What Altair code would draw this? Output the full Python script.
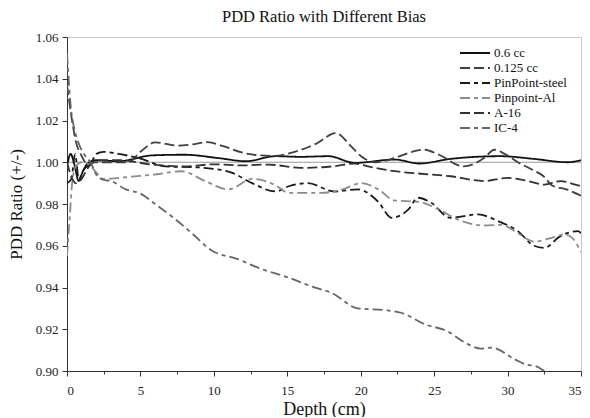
import altair as alt
import pandas as pd

series_names = ["0.6 cc", "0.125 cc", "PinPoint-steel", "Pinpoint-Al", "A-16", "IC-4"]

x_06 = [0, 0.25, 0.5, 0.8, 1.1, 1.5, 2, 3.5, 5.8, 8, 10.3, 12.2, 14.2, 15.9, 17.8, 19.6, 22.3, 24, 26.1, 29.5, 31.8, 34.1, 35]
y_06 = [0.998, 1.004, 0.999, 0.991, 0.996, 1.0, 1.001, 1.0005, 1.0033, 1.0036, 1.002, 1.0005, 1.0029, 1.0026, 1.0029, 0.9997, 1.0013, 0.9994, 1.0016, 1.0029, 1.0016, 1.0, 1.001]

x_0125 = [0, 0.3, 0.6, 1.0, 1.4, 1.8, 2.5, 3.5, 4.2, 5, 6, 7.5, 8.5, 9.6, 10.5, 12.2, 14, 15.5, 17, 18.3, 19.3, 20, 21, 22.3, 23.5, 24.3, 25.3, 27, 28.4, 29.1, 29.8, 30.7, 31.8, 32.5, 33, 34, 35]
y_0125 = [1.037, 1.022, 1.010, 1.003, 0.999, 1.000, 1.000, 1.000, 1.0, 1.005, 1.0095, 1.008, 1.0085, 1.0096, 1.008, 1.0042, 1.003, 1.005, 1.009, 1.014, 1.008, 1.003, 1.0, 1.002, 1.005, 1.006, 1.0037, 0.998, 1.002, 1.006, 1.004, 1.0, 0.996, 0.993, 0.989, 0.987, 0.984]

x_steel = [0, 0.3, 0.55, 0.8, 1.2, 1.6, 2, 2.5, 3.5, 4.9, 6.7, 9, 11.2, 12.6, 14.2, 15.1, 16.4, 18.2, 19.8, 21.2, 22.1, 23.25, 23.9, 24.8, 26.1, 28, 29.35, 30.7, 31.8, 32.5, 33.6, 34.8, 35]
y_steel = [0.99, 0.992, 1.004, 0.992, 0.997, 0.999, 1.004, 1.005, 1.004, 1.002, 0.998, 0.9975, 0.995, 0.990, 0.986, 0.9885, 0.990, 0.986, 0.987, 0.981, 0.9734, 0.9774, 0.983, 0.9806, 0.9734, 0.975, 0.9718, 0.967, 0.960, 0.959, 0.9646, 0.967, 0.966]

x_al = [0, 0.2, 0.35, 0.6, 1.0, 1.5, 2, 2.5, 3.5, 5, 5.8, 7.8, 9.4, 11, 12.6, 14.2, 15.1, 17.3, 18.7, 20.05, 21.2, 22.3, 24, 25.3, 26.6, 28.4, 29.6, 30.7, 31.8, 33, 33.9, 34.5, 35]
y_al = [0.955, 0.975, 0.990, 0.998, 1.000, 0.999, 0.995, 0.992, 0.9925, 0.9935, 0.994, 0.9957, 0.991, 0.987, 0.992, 0.989, 0.9853, 0.9853, 0.9869, 0.990, 0.987, 0.9817, 0.981, 0.9774, 0.9726, 0.9697, 0.970, 0.966, 0.962, 0.9638, 0.9654, 0.963, 0.957]

x_a16 = [0, 0.3, 0.6, 1.0, 1.4, 1.8, 2.5, 3.5, 5.8, 8, 10, 12, 13.7, 15.9, 18.2, 19.6, 20.5, 22.3, 24.1, 26.1, 28.4, 30, 31.4, 32.5, 33.6, 34.6, 35]
y_a16 = [1.0, 0.993, 0.990, 0.992, 0.997, 1.000, 1.001, 1.001, 0.9989, 0.998, 0.999, 0.9985, 0.9989, 0.9973, 0.9981, 0.9994, 0.998, 0.9957, 0.9945, 0.9933, 0.991, 0.9925, 0.991, 0.9893, 0.991, 0.9893, 0.9885]

x_ic4 = [0, 0.25, 0.5, 0.8, 1.25, 1.6, 2, 2.5, 3, 4, 5, 6, 7.4, 8.5, 9.8, 11.7, 13, 15.1, 16.9, 18, 19.8, 21.6, 22.75, 24.4, 25.9, 27.1, 28.2, 28.9, 30.5, 31.2, 32, 32.5, 33.5, 35]
y_ic4 = [1.052, 1.027, 1.016, 1.009, 1.003, 1.0, 0.994, 0.9915, 0.991, 0.987, 0.985, 0.980, 0.9726, 0.966, 0.958, 0.9534, 0.9495, 0.9447, 0.9399, 0.9375, 0.930, 0.9292, 0.9279, 0.9223, 0.9191, 0.9136, 0.9107, 0.9112, 0.9056, 0.9032, 0.9021, 0.900, 0.897, 0.893]

x_ticks = [0, 2.5, 5, 7.5, 10, 12.5, 15, 17.5, 20, 22.5, 25, 27.5, 30, 32.5, 35]
y_ticks = [0.90, 0.91, 0.92, 0.93, 0.94, 0.95, 0.96, 0.97, 0.98, 0.99, 1.00, 1.01, 1.02, 1.03, 1.04, 1.05, 1.06]

series_data = [
    ("0.6 cc", x_06, y_06),
    ("0.125 cc", x_0125, y_0125),
    ("PinPoint-steel", x_steel, y_steel),
    ("Pinpoint-Al", x_al, y_al),
    ("A-16", x_a16, y_a16),
    ("IC-4", x_ic4, y_ic4),
]
rows = []
for name, xs, ys in series_data:
    for i, (a, b) in enumerate(zip(xs, ys)):
        rows.append({"series": name, "depth": a, "ratio": b, "order": i})
df = pd.DataFrame(rows)

colors = ["#111111", "#404040", "#1a1a1a", "#8c8c8c", "#333333", "#666666"]
dashes = [[1, 0], [10, 4], [10, 4, 4, 4], [10, 4, 4, 4], [10, 4], [10, 4, 4, 4]]

FONT = "Liberation Serif"

x_enc = alt.X(
    "depth:Q",
    scale=alt.Scale(domain=[0, 35], nice=False),
    axis=alt.Axis(
        title="Depth (cm)",
        values=x_ticks,
        labelExpr="datum.value % 5 == 0 ? datum.label : ''",
        tickSize={"condition": {"test": "datum.value % 5 != 0", "value": 3}, "value": 5},
        labelFlush=True,
        labelPadding=8,
        titlePadding=3,
        titleFontSize=18,
    ),
)
y_enc = alt.Y(
    "ratio:Q",
    scale=alt.Scale(domain=[0.90, 1.06], nice=False, zero=False),
    axis=alt.Axis(
        title="PDD Ratio (+/-)",
        values=y_ticks,
        labelExpr="round(datum.value * 100) % 2 == 0 ? format(datum.value, '.2f') : ''",
        tickSize={"condition": {"test": "round(datum.value * 100) % 2 != 0", "value": 3}, "value": 5},
        labelFlush=False,
        labelPadding=4,
        titlePadding=10,
    ),
)

legend_kw = dict(
    title=None,
    orient="none",
    legendX=401,
    legendY=9,
    symbolType="M-2.5,0L2.5,0",
    symbolSize=144,
    symbolStrokeWidth=2,
    labelFont=FONT,
    labelFontSize=13,
    labelColor="#111",
    rowPadding=1,
    labelOffset=12,
)

lines = alt.Chart(df).mark_line(interpolate="monotone", strokeWidth=1.8, clip=True).encode(
    x=x_enc,
    y=y_enc,
    order="order:Q",
    color=alt.Color(
        "series:N",
        scale=alt.Scale(domain=series_names, range=colors),
        legend=alt.Legend(**legend_kw),
    ),
    strokeDash=alt.StrokeDash(
        "series:N",
        scale=alt.Scale(domain=series_names, range=dashes),
        legend=alt.Legend(**legend_kw),
    ),
)

ref = alt.Chart(pd.DataFrame({"ratio": [1.0]})).mark_rule(color="#9a9a9a", strokeWidth=1).encode(
    y="ratio:Q"
)

chart = alt.layer(ref, lines).properties(
    width=514,
    height=334,
    autosize=alt.AutoSizeParams(type="none"),
    padding={"left": 59, "top": 29, "right": 1, "bottom": 46},
    title=alt.Title(
        "PDD Ratio with Different Bias",
        font=FONT,
        fontSize=16.5,
        fontWeight="normal",
        color="#111",
        offset=6,
        anchor="middle",
    ),
).configure_view(
    stroke="#c8c8c8", strokeWidth=1
).configure_legend(
    labelFont=FONT
).configure_axis(
    grid=False,
    domainColor="#333",
    tickColor="#333",
    labelFont=FONT,
    labelFontSize=13,
    labelColor="#222",
    titleFont=FONT,
    titleFontSize=17,
    titleFontWeight="normal",
    titleColor="#111",
)

chart.save("out.html", embed_options={"renderer": "svg", "actions": False})
